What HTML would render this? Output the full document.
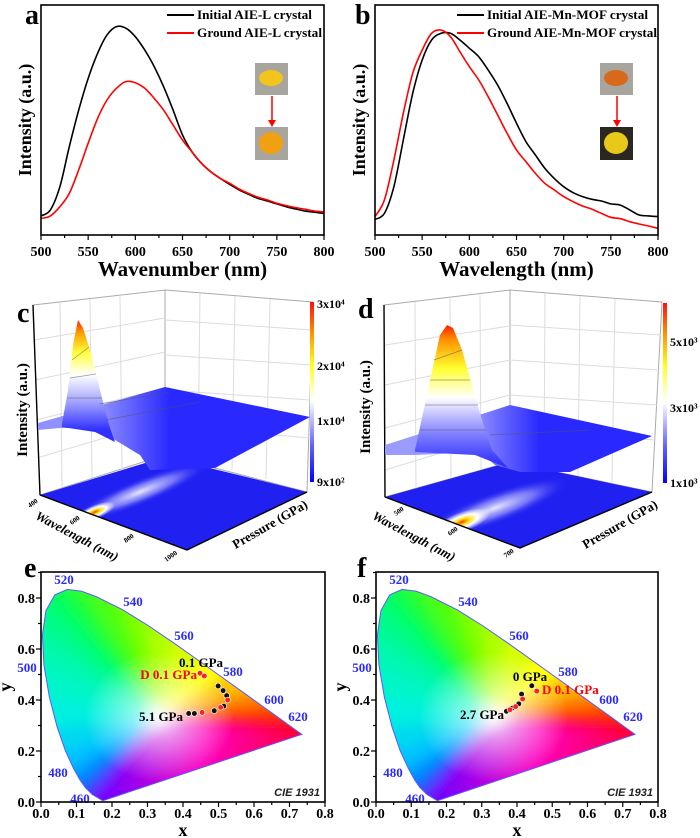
<!DOCTYPE html>
<html><head><meta charset="utf-8">
<style>
html,body{margin:0;padding:0;background:#fff;}
svg{display:block;font-family:"Liberation Serif",serif;}
.t{font-weight:bold;fill:#000;}
</style></head>
<body>
<svg id="fig" width="700" height="838" viewBox="0 0 700 838" xmlns="http://www.w3.org/2000/svg">
<defs>
<linearGradient id="cbar" x1="0" y1="0" x2="0" y2="1">
<stop offset="0" stop-color="#ff1010"/><stop offset="0.18" stop-color="#ff9900"/><stop offset="0.35" stop-color="#ffff20"/><stop offset="0.55" stop-color="#ffffff"/><stop offset="0.8" stop-color="#6060ff"/><stop offset="1" stop-color="#0000ff"/>
</linearGradient>
<linearGradient id="peakC" x1="0" y1="320" x2="0" y2="430" gradientUnits="userSpaceOnUse">
<stop offset="0" stop-color="#ff2000"/><stop offset="0.12" stop-color="#ffa000"/><stop offset="0.3" stop-color="#ffff40"/><stop offset="0.5" stop-color="#ffffff"/><stop offset="0.75" stop-color="#a0a0ff"/><stop offset="1" stop-color="#3030ff"/>
</linearGradient>
<linearGradient id="peakD" x1="0" y1="325" x2="0" y2="470" gradientUnits="userSpaceOnUse">
<stop offset="0" stop-color="#ff2000"/><stop offset="0.1" stop-color="#ff9000"/><stop offset="0.3" stop-color="#ffff30"/><stop offset="0.5" stop-color="#ffffff"/><stop offset="0.75" stop-color="#8080ff"/><stop offset="1" stop-color="#2020ff"/>
</linearGradient>
<linearGradient id="planeC" x1="100" y1="0" x2="170" y2="0" gradientUnits="userSpaceOnUse">
<stop offset="0" stop-color="#9090ff"/><stop offset="1" stop-color="#2828ff"/>
</linearGradient>
<linearGradient id="planeD" x1="470" y1="0" x2="540" y2="0" gradientUnits="userSpaceOnUse">
<stop offset="0" stop-color="#9a9aff"/><stop offset="1" stop-color="#2828ff"/>
</linearGradient>
<radialGradient id="hot">
<stop offset="0" stop-color="#ff3000"/><stop offset="0.25" stop-color="#ffe000"/><stop offset="0.55" stop-color="#ffffff"/><stop offset="1" stop-color="#ffffff" stop-opacity="0"/>
</radialGradient>
<radialGradient id="glow">
<stop offset="0" stop-color="#ffffff" stop-opacity="0.9"/><stop offset="0.5" stop-color="#b0b0ff" stop-opacity="0.6"/><stop offset="1" stop-color="#2020ff" stop-opacity="0"/>
</radialGradient>
<radialGradient id="whiteC">
<stop offset="0" stop-color="#ffffff" stop-opacity="0.95"/><stop offset="0.35" stop-color="#ffffff" stop-opacity="0.55"/><stop offset="1" stop-color="#ffffff" stop-opacity="0"/>
</radialGradient>
<filter id="blur" x="-10%" y="-10%" width="120%" height="120%"><feGaussianBlur stdDeviation="6"/></filter>
</defs>
<g id="root"></g>
</svg>
<script>
// ---------- Panel a / b data ----------
const waves = [500,510,520,530,540,550,560,570,580,590,600,610,620,630,640,650,660,670,680,690,700,710,720,730,740,750,760,770,780,790,800];
const aInitial = [8.3,10.9,21.0,38.4,54.3,68.1,79.0,87.0,90.6,89.9,86.2,80.4,73.2,64.5,54.3,43.5,36.2,31.2,27.5,24.6,22.0,19.6,17.7,15.9,14.8,13.5,12.3,11.3,10.4,9.9,9.4];
const aGround = [7.2,8.3,12.3,18.1,28.3,39.9,50.7,58.7,63.8,66.7,66.2,63.8,59.4,54.3,47.8,41.3,36.2,31.2,27.5,24.6,22.5,20.0,18.1,16.4,15.2,13.8,12.8,11.9,11.2,10.4,10.0];
const bInitial = [6.8,9.4,21.0,41.3,61.6,76.1,84.8,87.7,87.7,84.8,81.2,77.5,71.7,65.2,57.2,48.6,40.6,34.8,29.0,24.6,21.0,18.4,16.7,15.5,14.8,13.5,13.0,10.9,8.7,8.3,8.0];
const bGround = [8.0,15.2,32.6,52.9,70.3,80.4,87.7,89.1,86.2,79.7,73.2,67.4,60.1,52.2,44.2,37.0,31.9,26.8,22.5,19.6,16.7,14.5,12.6,11.2,9.4,7.7,7.1,5.8,4.8,3.9,2.9];
const waveTicks = [500,550,600,650,700,750,800];
// ---------- CIE data ----------
const locusNm = [380,460,470,475,480,485,490,495,500,505,510,515,520,525,530,540,550,560,570,580,590,600,610,620,640,700];
const locusX = [0.1741,0.1440,0.1241,0.1096,0.0913,0.0687,0.0454,0.0235,0.0082,0.0039,0.0139,0.0389,0.0743,0.1142,0.1547,0.2296,0.3016,0.3731,0.4441,0.5125,0.5752,0.6270,0.6658,0.6915,0.7190,0.7347];
const locusY = [0.0050,0.0297,0.0578,0.0868,0.1327,0.2007,0.2950,0.4127,0.5384,0.6548,0.7502,0.8120,0.8338,0.8262,0.8059,0.7543,0.6923,0.6245,0.5547,0.4866,0.4242,0.3725,0.3340,0.3083,0.2809,0.2653];
const cieTicksX = [0,0.1,0.2,0.3,0.4,0.5,0.6,0.7,0.8];
const cieTicksY = [0,0.2,0.4,0.6,0.8];
const nmLabels = ["520","540","560","500","580","600","620","480","460"];
const eBlackX = [0.499,0.513,0.523,0.515,0.488,0.432,0.416];
const eBlackY = [0.455,0.437,0.417,0.376,0.358,0.347,0.347];
const eRedX = [0.448,0.460,0.526,0.506,0.454];
const eRedY = [0.505,0.494,0.400,0.371,0.351];
const fBlackX = [0.442,0.413,0.405,0.387,0.370];
const fBlackY = [0.456,0.423,0.385,0.368,0.356];
const fRedX = [0.456,0.416,0.396,0.380];
const fRedY = [0.435,0.404,0.374,0.362];
// ---------- 3D colorbar labels ----------
const cBarLabels = ["3x10\u2074","2x10\u2074","1x10\u2074","9x10\u00b2"];
const dBarLabels = ["5x10\u00b3","3x10\u00b3","1x10\u00b3"];

const NS = "http://www.w3.org/2000/svg";
const root = document.getElementById('root');
function mk(tag, attrs, parent){
  const el = document.createElementNS(NS, tag);
  for (const k in attrs) el.setAttribute(k, attrs[k]);
  (parent||root).appendChild(el);
  return el;
}
function txt(s, attrs, parent){
  const el = mk('text', attrs, parent);
  el.textContent = s;
  return el;
}
function smoothPath(pts){
  let d = 'M' + pts[0][0].toFixed(1) + ',' + pts[0][1].toFixed(1);
  for (let i = 0; i < pts.length - 1; i++){
    const p0 = pts[Math.max(0, i - 1)], p1 = pts[i], p2 = pts[i + 1], p3 = pts[Math.min(pts.length - 1, i + 2)];
    const c1 = [p1[0] + (p2[0] - p0[0]) / 6, p1[1] + (p2[1] - p0[1]) / 6];
    const c2 = [p2[0] - (p3[0] - p1[0]) / 6, p2[1] - (p3[1] - p1[1]) / 6];
    d += 'C' + c1[0].toFixed(1) + ',' + c1[1].toFixed(1) + ' ' + c2[0].toFixed(1) + ',' + c2[1].toFixed(1) + ' ' + p2[0].toFixed(1) + ',' + p2[1].toFixed(1);
  }
  return d;
}

// ---------- spectrum panels ----------
function spectrumPanel(cfg){
  const g = mk('g', {});
  
  
  const L = cfg.left, R = cfg.right, T = 5, B = 235;
  const xs = w => L + (w - 500) / 300 * (R - L);
  const ys = v => B - v / 100 * (B - T);
  for (let w = 500; w <= 800; w += 25){
    const major = waveTicks.indexOf(w) >= 0;
    const tk = mk('line', {x1: xs(w), x2: xs(w), y1: B, y2: B + (major ? 5 : 3), stroke: '#000', 'stroke-width': 1.2}, g);
    
    
  }
  waveTicks.forEach(w => {
    const t = txt(String(w), {x: xs(w), y: 256, 'text-anchor': 'middle', 'font-size': 14, class: 't'}, g);
    
    
  });
  const xt = txt(cfg.xTitle, {x: (L + R) / 2, y: 276, 'text-anchor': 'middle', 'font-size': 21, class: 't'}, g);
  
  
  const yt = txt('Intensity (a.u.)', {x: 0, y: 0, 'text-anchor': 'middle', 'font-size': 18, class: 't', transform: `translate(${L - 10},120) rotate(-90)`}, g);
  
  
  [[cfg.s1, '#000', 'initial-series'], [cfg.s2, '#ff0000', 'ground-series']].forEach(([s, c, n]) => {
    const pts = s.map((v, i) => [xs(waves[i]), ys(v)]);
    const p = mk('path', {d: smoothPath(pts), fill: 'none', stroke: c, 'stroke-width': 1.6, 'stroke-linejoin': 'round'}, g);
    
    
  });
  const fr = mk('rect', {x: L, y: T, width: R - L, height: B - T, fill: 'none', stroke: '#000', 'stroke-width': 1.6}, g);
  
  
  const lx = cfg.legX;
  [[cfg.l1, '#000', 19, 'legend-initial', cfg.lw1], [cfg.l2, '#ff0000', 37, 'legend-ground', cfg.lw2]].forEach(([s, c, y, n, w]) => {
    const lg = mk('g', {}, g);
    
    
    mk('line', {x1: lx, x2: lx + 27, y1: y - 4, y2: y - 4, stroke: c, 'stroke-width': 2}, lg);
    txt(s, {x: lx + 30, y: y, 'font-size': 13, class: 't', textLength: w, lengthAdjust: 'spacingAndGlyphs'}, lg);
  });
  const pl = txt(cfg.letter, {x: cfg.letterX, y: 24, 'font-size': 28, class: 't'}, g);
  
  
  const ix = cfg.insetX;
  const p1 = mk('rect', {x: ix, y: 63, width: 33, height: 32, fill: '#a8a49e'}, g);
  
  
  mk('ellipse', {cx: ix + 16, cy: 78, rx: 12, ry: 8, fill: cfg.c1}, g);
  const ar = mk('line', {x1: ix + 17, x2: ix + 17, y1: 96, y2: 122, stroke: '#ff0000', 'stroke-width': 1.5}, g);
  
  
  mk('path', {d: `M${ix+13},120 L${ix+21},120 L${ix+17},127 Z`, fill: '#ff0000'}, g);
  const p2 = mk('rect', {x: ix, y: 127, width: 33, height: 33, fill: cfg.bg2}, g);
  
  
  mk('ellipse', {cx: ix + 16, cy: 143, rx: 12, ry: 11, fill: cfg.c2}, g);
}
spectrumPanel({name: 'panel-a', left: 41, right: 324, xTitle: 'Wavenumber (nm)', s1: aInitial, s2: aGround,
  l1: 'Initial AIE-L crystal', l2: 'Ground AIE-L crystal', lw1: 115, lw2: 125, legX: 167, letter: 'a', letterX: 25, insetX: 255,
  c1: '#f2c41e', bg2: '#a8a49e', c2: '#f0a010'});
spectrumPanel({name: 'panel-b', left: 375, right: 658, xTitle: 'Wavelength (nm)', s1: bInitial, s2: bGround,
  l1: 'Initial AIE-Mn-MOF crystal', l2: 'Ground AIE-Mn-MOF crystal', lw1: 161, lw2: 170, legX: 457, letter: 'b', letterX: 355, insetX: 600,
  c1: '#d8681a', bg2: '#2a2620', c2: '#e8c818'});

// ---------- 3D panels ----------
function panel3d(cfg){
  const g = mk('g', {});
  
  
  const o = cfg.ox;
  const P = pts => pts.map(p => (p[0] + o) + ',' + p[1]).join(' ');
  const lw = mk('polygon', {points: P(cfg.leftWall), fill: '#fff', stroke: '#aaa', 'stroke-width': 1}, g);
  
  
  const rw = mk('polygon', {points: P(cfg.rightWall), fill: '#fff', stroke: '#aaa', 'stroke-width': 1}, g);
  
  
  cfg.grid.forEach(l => {
    const gl = mk('line', {x1: l[0] + o, y1: l[1], x2: l[2] + o, y2: l[3], stroke: '#dcdcdc', 'stroke-width': 1}, g);
    
    
  });
  const ax = mk('line', {x1: cfg.leftWall[0][0] + o, y1: cfg.leftWall[0][1], x2: cfg.leftWall[3][0] + o, y2: cfg.leftWall[3][1], stroke: '#000', 'stroke-width': 1.4}, g);
  
  
  const fl = mk('polygon', {points: P(cfg.floor), fill: '#2020f0'}, g);
  
  
  const cid = 'fclip-' + cfg.name;
  const cp = mk('clipPath', {id: cid}, g);
  mk('polygon', {points: P(cfg.floor)}, cp);
  const fg = mk('g', {'clip-path': `url(#${cid})`}, g);
  const gw = mk('ellipse', {cx: cfg.glow[0] + o, cy: cfg.glow[1], rx: cfg.glow[2], ry: cfg.glow[3], fill: 'url(#glow)', transform: `rotate(${cfg.glow[4]} ${cfg.glow[0] + o} ${cfg.glow[1]})`}, fg);
  
  
  const hs = mk('ellipse', {cx: cfg.hot[0] + o, cy: cfg.hot[1], rx: cfg.hot[2], ry: cfg.hot[3], fill: 'url(#hot)', transform: `rotate(${cfg.hot[4]} ${cfg.hot[0] + o} ${cfg.hot[1]})`}, fg);
  
  
  const fe = mk('polyline', {points: P([cfg.floor[0], cfg.floor[3], cfg.floor[2]]), fill: 'none', stroke: '#000', 'stroke-width': 1.4}, g);
  
  
  const pl = mk('polygon', {points: P(cfg.plane), fill: cfg.planeFill}, g);
  
  
  const pk = mk('polygon', {points: P(cfg.peak), fill: cfg.peakFill}, g);
  
  
  cfg.contours.forEach(c => {
    const cl = mk('line', {x1: c[0] + o, y1: c[1], x2: c[2] + o, y2: c[3], stroke: '#555', 'stroke-width': 0.7, opacity: 0.6}, g);
    
    
  });
  const cb = mk('rect', {x: cfg.cbar[0] + o, y: cfg.cbar[1], width: 4, height: cfg.cbar[2] - cfg.cbar[1], fill: 'url(#cbar)'}, g);
  
  
  cfg.barLabels.forEach((s, i) => {
    const t = txt(s, {x: cfg.cbar[0] + o + 7, y: cfg.barY[i] + 4, 'font-size': 12, class: 't'}, g);
    
    
  });
  const yt = txt('Intensity (a.u.)', {x: 0, y: 0, 'text-anchor': 'middle', 'font-size': 15, class: 't', transform: `translate(${cfg.yt[0] + o},${cfg.yt[1]}) rotate(-90)`}, g);
  
  
  const wt = txt('Wavelength (nm)', {x: 0, y: 0, 'text-anchor': 'middle', 'font-size': 13, 'font-style': 'italic', class: 't', transform: `translate(${cfg.wt[0] + o},${cfg.wt[1]}) rotate(28)`}, g);
  
  
  const pt = txt('Pressure (GPa)', {x: 0, y: 0, 'text-anchor': 'middle', 'font-size': 13, class: 't', transform: `translate(${cfg.pt[0] + o},${cfg.pt[1]}) rotate(-30)`}, g);
  
  
  cfg.wTicks.forEach(tk => {
    const t = txt(tk[0], {x: 0, y: 0, 'text-anchor': 'middle', 'font-size': 7, class: 't', transform: `translate(${tk[1] + o},${tk[2]}) rotate(-35)`}, g);
    
    
  });
  const lt = txt(cfg.letter, {x: cfg.letterPos[0] + o, y: cfg.letterPos[1], 'font-size': 28, class: 't'}, g);
  
  
}
panel3d({name: 'panel-c', ox: 0, letter: 'c', letterPos: [17, 322],
  leftWall: [[33,305],[165,290],[165,455],[40,495]],
  rightWall: [[165,290],[313,302],[307,492],[165,455]],
  grid: [[60,302,62,487],[90,299,92,478],[120,295,122,470],[34,340,165,318],[35,380,165,352],[36,420,165,388],[37,458,165,420],
         [200,293,198,462],[235,296,232,470],[270,299,266,479],[165,320,312,330],[165,355,311,365],[165,390,310,400],[165,425,309,438]],
  floor: [[40,495],[165,457],[307,492],[187,550]],
  glow: [140,492,75,13,-22],
  hot: [95,512,22,7,-22],
  plane: [[38,423],[165,387],[310,417],[215,468],[150,470],[140,455],[115,440],[100,428],[60,428],[38,430]],
  planeFill: 'url(#planeC)',
  peak: [[62,424],[68,390],[73,345],[78,320],[83,328],[90,350],[97,378],[103,402],[110,428],[115,442],[95,432],[62,427]],
  peakFill: 'url(#peakC)',
  contours: [[72,360,89,347],[70,378,96,374],[67,398,102,398],[100,404,170,392],[106,420,200,402]],
  cbar: [310,302,482], barLabels: cBarLabels, barY: [304,366,421,482],
  yt: [27,410], wt: [75,540], pt: [272,528],
  wTicks: [['400',34,505],['600',76,522],['800',130,540],['1000',172,558]]});
panel3d({name: 'panel-d', ox: 350, letter: 'd', letterPos: [8, 318],
  leftWall: [[34,305],[160,290],[160,462],[35,497]],
  rightWall: [[160,290],[312,302],[302,492],[160,462]],
  grid: [[65,302,66,490],[100,298,101,480],[130,295,131,472],[35,345,160,326],[35,385,160,360],[35,428,160,395],[35,470,160,432],
         [195,293,194,470],[230,296,228,476],[265,299,262,483],[160,325,311,335],[160,360,309,370],[160,395,307,405],[160,430,305,440]],
  floor: [[35,497],[160,462],[302,492],[170,548]],
  glow: [145,508,80,16,-20],
  hot: [112,522,30,10,-20],
  plane: [[35,445],[160,405],[302,436],[220,472],[170,472],[145,465],[130,452],[65,455],[35,455]],
  planeFill: 'url(#planeD)',
  peak: [[65,450],[78,390],[90,335],[97,325],[103,328],[112,350],[122,385],[132,420],[142,450],[158,468],[125,455],[65,452]],
  peakFill: 'url(#peakD)',
  contours: [[84,360,112,350],[80,380,120,380],[75,405,128,405],[70,430,136,430],[140,435,240,430]],
  cbar: [313,303,483], barLabels: dBarLabels, barY: [342,408,483],
  yt: [20,407], wt: [62,540], pt: [272,528],
  wTicks: [['500',50,513],['600',104,533],['700',160,555]]});

// ---------- CIE panels ----------
const WP = [0.3333, 0.3333];
const nmCols = {380:'#8000ff',460:'#3040ff',470:'#0070ff',475:'#0098ff',480:'#00c0ff',485:'#00d8f0',490:'#00f0e0',495:'#00f5c8',500:'#00f8b0',505:'#00fa90',510:'#00ff70',515:'#10ff50',520:'#20ff30',525:'#40ff20',530:'#50ff10',540:'#80ff00',550:'#b0ff00',560:'#d8ff00',570:'#ffff00',580:'#ffc000',590:'#ff8000',600:'#ff4000',610:'#ff1800',620:'#ff0020',640:'#ff0030',700:'#ff0040'};
function ciePanel(cfg){
  const g = mk('g', {});
  
  
  const L = cfg.left, R = cfg.right, B = 802, T = 572;
  const xs = x => L + x / 0.8 * (R - L);
  const ys = y => B - y * 255;
  const cid = 'clip-' + cfg.name;
  const cp = mk('clipPath', {id: cid}, g);
  const locPts = locusX.map((x, i) => xs(x).toFixed(1) + ',' + ys(locusY[i]).toFixed(1)).join(' ');
  mk('polygon', {points: locPts}, cp);
  const fillG = mk('g', {'clip-path': `url(#${cid})`}, g);
  
  
  const blurG = mk('g', {filter: 'url(#blur)'}, fillG);
  const wx = xs(WP[0]), wy = ys(WP[1]);
  for (let i = 0; i < locusX.length - 1; i++){
    const a1 = [xs(locusX[i]), ys(locusY[i])], a2 = [xs(locusX[i+1]), ys(locusY[i+1])];
    const ex = p => [wx + (p[0] - wx) * 1.3, wy + (p[1] - wy) * 1.3];
    const e1 = ex(a1), e2 = ex(a2);
    const tri = mk('polygon', {points: `${wx},${wy} ${e1[0]},${e1[1]} ${e2[0]},${e2[1]}`, fill: nmCols[locusNm[i]], stroke: nmCols[locusNm[i]], 'stroke-width': 1}, blurG);
    
    
  }
  const n = locusX.length - 1;
  const pA = [xs(locusX[n]), ys(locusY[n])], pB = [xs(locusX[0]), ys(locusY[0])];
  const gid = 'purp-' + cfg.name;
  const lg = mk('linearGradient', {id: gid, x1: pA[0], y1: 0, x2: pB[0], y2: 0, gradientUnits: 'userSpaceOnUse'}, g);
  mk('stop', {offset: 0, 'stop-color': '#ff0040'}, lg);
  mk('stop', {offset: 0.5, 'stop-color': '#ff00c0'}, lg);
  mk('stop', {offset: 1, 'stop-color': '#7000ff'}, lg);
  const pu = mk('polygon', {points: `${wx},${wy} ${pA[0]+10},${pA[1]} ${pA[0]+10},${pA[1]+60} ${pB[0]-10},${pB[1]+30} ${pB[0]-10},${pB[1]}`, fill: `url(#${gid})`}, blurG);
  
  
  const wc = mk('ellipse', {cx: wx, cy: wy, rx: 75, ry: 65, fill: 'url(#whiteC)'}, fillG);
  
  
  const lo = mk('polygon', {points: locPts, fill: 'none', stroke: '#5a5aff', 'stroke-width': 1}, g);
  
  
  const nmPos = [[23,-223],[92,-201],[143,-167],[-14,-135],[192,-131],[233,-103],[257,-86],[17,-30],[39,-4]];
  nmLabels.forEach((s, i) => {
    const t = txt(s, {x: L + nmPos[i][0], y: B + nmPos[i][1] + 5, 'text-anchor': 'middle', 'font-size': 13, 'font-weight': 'bold', fill: '#2a2aff'}, g);
    
    
  });
  const fr = mk('rect', {x: L, y: T, width: R - L, height: B - T, fill: 'none', stroke: '#000', 'stroke-width': 1.6}, g);
  
  
  for (let k = 0; k <= 16; k++){
    const x = k * 0.05, major = k % 2 === 0;
    const tk = mk('line', {x1: xs(x), x2: xs(x), y1: B, y2: B + (major ? 5 : 3), stroke: '#000', 'stroke-width': 1.2}, g);
    
    
  }
  cieTicksX.forEach(x => {
    const t = txt(x.toFixed(1), {x: xs(x), y: 818, 'text-anchor': 'middle', 'font-size': 14, class: 't'}, g);
    
    
  });
  for (let k = 0; k <= 9; k++){
    const y = k * 0.1, major = k % 2 === 0;
    const tk = mk('line', {x1: L, x2: L - (major ? 5 : 3), y1: ys(y), y2: ys(y), stroke: '#000', 'stroke-width': 1.2}, g);
    
    
  }
  cieTicksY.forEach(y => {
    const t = txt(y.toFixed(1), {x: L - 6, y: ys(y) + 5, 'text-anchor': 'end', 'font-size': 14, class: 't'}, g);
    
    
  });
  const xt = txt('x', {x: (L + R) / 2, y: 836, 'text-anchor': 'middle', 'font-size': 18, class: 't'}, g);
  
  
  const yt = txt('y', {x: 0, y: 0, 'text-anchor': 'middle', 'font-size': 18, class: 't', transform: `translate(${L - 30},687) rotate(-90)`}, g);
  
  
  const ct = txt('CIE 1931', {x: R - 5, y: 796, 'text-anchor': 'end', 'font-size': 11, 'font-style': 'italic', 'font-weight': 'bold', 'font-family': '"Liberation Sans", sans-serif', fill: '#222'}, g);
  
  
  cfg.bx.forEach((x, i) => {
    const c = mk('circle', {cx: xs(x), cy: ys(cfg.by[i]), r: 2.8, fill: '#111', stroke: '#fff', 'stroke-width': 0.6}, g);
    
    
  });
  cfg.rx.forEach((x, i) => {
    const c = mk('circle', {cx: xs(x), cy: ys(cfg.ry[i]), r: 2.8, fill: '#ff2020', stroke: '#fff', 'stroke-width': 0.6}, g);
    
    
  });
  cfg.labels.forEach(l => {
    const t = txt(l[0], {x: l[1], y: l[2], 'text-anchor': l[3], 'font-size': 13, 'font-weight': 'bold', fill: l[4]}, g);
    
    
  });
  const lt = txt(cfg.letter, {x: cfg.letterX, y: 577, 'font-size': 28, class: 't'}, g);
  
  
}
ciePanel({name: 'panel-e', left: 41, right: 325, bx: eBlackX, by: eBlackY, rx: eRedX, ry: eRedY, letter: 'e', letterX: 24,
  labels: [['0.1 GPa', 201, 667, 'middle', '#000'], ['D 0.1 GPa', 197, 679, 'end', '#ff0000'], ['5.1 GPa', 183, 721, 'end', '#000']]});
ciePanel({name: 'panel-f', left: 376, right: 658, bx: fBlackX, by: fBlackY, rx: fRedX, ry: fRedY, letter: 'f', letterX: 357,
  labels: [['0 GPa', 530, 681, 'middle', '#000'], ['D 0.1 GPa', 542, 694, 'start', '#ff0000'], ['2.7 GPa', 504, 719, 'end', '#000']]});
</script>
</body></html>
